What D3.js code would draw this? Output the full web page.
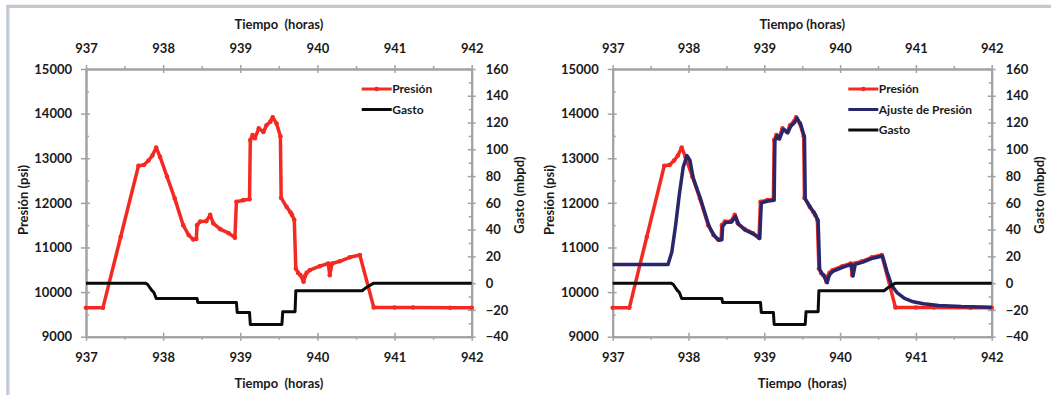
<!DOCTYPE html>
<html>
<head>
<meta charset="utf-8">
<script src="https://cdn.jsdelivr.net/npm/d3@7"></script>
<style>
  html, body { margin: 0; padding: 0; background: #fff; }
  svg { display: block; }
  text { font-family: Lato, "Open Sans", sans-serif; font-weight: 700; fill: #1a1a1a; }
</style>
</head>
<body>
<svg id="chart" width="1051" height="395"></svg>
<script>
// Time axis (hours) and tick values
const tiempoTicks = [937, 938, 939, 940, 941, 942];
const tiempoMinor = [937.5, 938.5, 939.5, 940.5, 941.5];
const presionTicks = [9000, 10000, 11000, 12000, 13000, 14000, 15000];
const presionMinor = [9500, 10500, 11500, 12500, 13500, 14500];
const gastoTicks = [-40, -20, 0, 20, 40, 60, 80, 100, 120, 140, 160];
const gastoMinor = [-30, -10, 10, 30, 50, 70, 90, 110, 130, 150];

// Measured bottom-hole pressure [hours, psi]
const presion = [
  [937.00, 9650], [937.22, 9650], [937.45, 11240], [937.68, 12830], [937.75, 12850],
  [937.81, 12950], [937.86, 13060], [937.91, 13240], [937.96, 13030], [938.05, 12590],
  [938.15, 12100], [938.26, 11500], [938.33, 11280], [938.39, 11180], [938.43, 11190],
  [938.44, 11500], [938.48, 11580], [938.56, 11590], [938.61, 11730], [938.65, 11540],
  [938.74, 11410], [938.85, 11320], [938.93, 11220], [938.95, 12025], [939.04, 12060],
  [939.12, 12080], [939.13, 13410], [939.16, 13520], [939.19, 13450], [939.24, 13670],
  [939.30, 13590], [939.34, 13740], [939.39, 13820], [939.42, 13920], [939.47, 13780],
  [939.52, 13490], [939.53, 12110], [939.60, 11910], [939.65, 11790], [939.67, 11730],
  [939.70, 11620], [939.72, 10530], [939.75, 10430], [939.78, 10380], [939.82, 10230],
  [939.84, 10360], [939.86, 10430], [939.90, 10490], [940.03, 10580], [940.14, 10640],
  [940.16, 10380], [940.19, 10640], [940.29, 10690], [940.42, 10780], [940.55, 10830],
  [940.73, 9657], [941.00, 9655], [941.24, 9655], [941.72, 9650], [942.00, 9650]
];

// Simulated (matched) pressure [hours, psi]
const ajuste = [
  [937.00, 10620], [937.73, 10620], [937.78, 10900], [937.83, 11500], [937.88, 12200],
  [937.93, 12800], [937.98, 13060], [938.02, 12950], [938.06, 12570], [938.16, 12080],
  [938.27, 11480], [938.34, 11260], [938.40, 11160], [938.44, 11170], [938.45, 11470],
  [938.49, 11560], [938.57, 11570], [938.62, 11700], [938.66, 11520], [938.75, 11390],
  [938.86, 11300], [938.94, 11200], [938.96, 12000], [939.05, 12040], [939.13, 12060],
  [939.14, 13390], [939.17, 13500], [939.20, 13430], [939.25, 13650], [939.31, 13570],
  [939.35, 13720], [939.40, 13800], [939.43, 13900], [939.48, 13760], [939.53, 13470],
  [939.54, 12090], [939.61, 11890], [939.66, 11770], [939.68, 11710], [939.71, 11600],
  [939.73, 10510], [939.76, 10410], [939.79, 10360], [939.83, 10210], [939.85, 10340],
  [939.87, 10410], [939.91, 10470], [940.04, 10560], [940.15, 10620], [940.17, 10360],
  [940.20, 10620], [940.30, 10670], [940.43, 10760], [940.56, 10810], [940.62, 10450],
  [940.68, 10150], [940.75, 9990], [940.85, 9860], [940.95, 9790], [941.10, 9740],
  [941.30, 9700], [941.60, 9675], [942.00, 9660]
];

// Flow rate [hours, mbpd]
const gasto = [
  [937.00, 0], [937.77, 0], [937.80, -1], [937.85, -5.2], [937.88, -7], [937.91, -11.4],
  [938.44, -11.4], [938.45, -14.4], [938.95, -14.4], [938.96, -21.9], [939.12, -21.9],
  [939.13, -30.9], [939.54, -30.9], [939.55, -21.4], [939.71, -21.4], [939.72, -5.7],
  [940.58, -5.7], [940.64, -3], [940.73, 0], [942.00, 0]
];

const svg = d3.select("#chart");
const AXIS = "#a3a3a3";
const RED = "#f42a22", NAVY = "#29266b", BLACK = "#0a0a0a";

// Outer frame (top and left edges)
svg.append("path").attr("d", "M7.5,395V6H1051").attr("fill", "none")
  .attr("stroke", "#c3c7cc").attr("stroke-width", 2.5);
svg.append("path").attr("d", "M9,395V7.5H1051").attr("fill", "none")
  .attr("stroke", "#b9cde6").attr("stroke-width", 1);

const plotTop = 69, plotBottom = 336.7;

function panel(left, right, opts) {
  const g = svg.append("g");
  const x = d3.scaleLinear().domain([937, 942]).range([left, right]);
  const yP = d3.scaleLinear().domain([9000, 15000]).range([plotBottom, plotTop]);
  const yG = d3.scaleLinear().domain([-40, 160]).range([plotBottom, plotTop]);

  const styleAxis = sel => {
    sel.select(".domain").attr("stroke", AXIS).attr("stroke-width", 2);
    sel.selectAll(".tick line").attr("stroke", AXIS).attr("stroke-width", 1.5);
    sel.selectAll(".tick text").style("font-size", "13px");
  };

  // Bottom time axis
  g.append("g").attr("transform", `translate(0,${plotBottom})`)
    .call(d3.axisBottom(x).tickValues(tiempoMinor).tickFormat("").tickSize(3).tickSizeOuter(0))
    .call(styleAxis);
  g.append("g").attr("transform", `translate(0,${plotBottom})`)
    .call(d3.axisBottom(x).tickValues(tiempoTicks).tickFormat(d3.format("d")).tickSize(4).tickPadding(12).tickSizeOuter(0))
    .call(styleAxis)
    .call(s => s.selectAll(".tick line").attr("y1", -4));

  // Top time axis
  g.append("g").attr("transform", `translate(0,${plotTop})`)
    .call(d3.axisTop(x).tickValues(tiempoMinor).tickFormat("").tickSize(3).tickSizeOuter(0))
    .call(styleAxis);
  g.append("g").attr("transform", `translate(0,${plotTop})`)
    .call(d3.axisTop(x).tickValues(tiempoTicks).tickFormat(d3.format("d")).tickSize(4).tickPadding(12).tickSizeOuter(0))
    .call(styleAxis)
    .call(s => s.selectAll(".tick line").attr("y1", 4));

  // Left pressure axis
  g.append("g").attr("transform", `translate(${left},0)`)
    .call(d3.axisLeft(yP).tickValues(presionMinor).tickFormat("").tickSize(-3).tickSizeOuter(0))
    .call(styleAxis);
  g.append("g").attr("transform", `translate(${left},0)`)
    .call(d3.axisLeft(yP).tickValues(presionTicks).tickFormat(d3.format("d")).tickSize(5).tickPadding(9).tickSizeOuter(0))
    .call(styleAxis)
    .call(s => s.selectAll(".tick line").attr("x1", 4));

  // Right flow-rate axis
  g.append("g").attr("transform", `translate(${right},0)`)
    .call(d3.axisRight(yG).tickValues(gastoMinor).tickFormat("").tickSize(-3).tickSizeOuter(0))
    .call(styleAxis);
  g.append("g").attr("transform", `translate(${right},0)`)
    .call(d3.axisRight(yG).tickValues(gastoTicks).tickFormat(d3.format("d")).tickSize(4).tickPadding(10).tickSizeOuter(0))
    .call(styleAxis)
    .call(s => s.selectAll(".tick line").attr("x1", -4));

  const cx = (left + right) / 2;
  g.append("text").attr("x", cx).attr("y", 28.5).attr("text-anchor", "middle")
    .style("font-size", "13px").style("white-space", "pre").text(opts.topTitle);
  g.append("text").attr("x", cx).attr("y", 387.5).attr("text-anchor", "middle")
    .style("font-size", "13px").style("white-space", "pre").text("Tiempo  (horas)");
  g.append("text").attr("transform", `translate(${left - 63},200) rotate(-90)`)
    .attr("text-anchor", "middle").attr("dy", "0.35em")
    .style("font-size", "13px").text("Presión (psi)");
  g.append("text").attr("transform", `translate(${right + 48},195) rotate(-90)`)
    .attr("text-anchor", "middle").attr("dy", "0.35em")
    .style("font-size", "13px").text("Gasto (mbpd)");

  const lineP = d3.line().x(d => x(d[0])).y(d => yP(d[1]));
  const lineG = d3.line().x(d => x(d[0])).y(d => yG(d[1]));

  g.append("path").datum(presion).attr("d", lineP).attr("fill", "none")
    .attr("stroke", RED).attr("stroke-width", 3.5).attr("stroke-linejoin", "round");
  g.append("g").selectAll("circle").data(presion).join("circle")
    .attr("cx", d => x(d[0])).attr("cy", d => yP(d[1])).attr("r", 2.3).attr("fill", RED);

  if (opts.ajuste) {
    g.append("path").datum(ajuste).attr("d", lineP).attr("fill", "none")
      .attr("stroke", NAVY).attr("stroke-width", 3.5).attr("stroke-linejoin", "round");
  }

  g.append("path").datum(gasto).attr("d", lineG).attr("fill", "none")
    .attr("stroke", BLACK).attr("stroke-width", 3).attr("stroke-linejoin", "round");

  // Legend
  const items = [{ name: "Presión", color: RED, marker: true }];
  if (opts.ajuste) items.push({ name: "Ajuste de Presión", color: NAVY });
  items.push({ name: "Gasto", color: BLACK });
  const lg = g.append("g").attr("transform", `translate(${opts.legendX},89)`);
  items.forEach((it, i) => {
    const row = lg.append("g").attr("transform", `translate(0,${i * 20.5})`);
    row.append("line").attr("x1", 0).attr("x2", 30).attr("stroke", it.color).attr("stroke-width", 3);
    if (it.marker) row.append("circle").attr("cx", 15).attr("r", 2.3).attr("fill", it.color);
    row.append("text").attr("x", 30.5).attr("dy", "0.35em").style("font-size", "12px").text(it.name);
  });
}

panel(86, 471.7, { topTitle: "Tiempo  (horas)", legendX: 361.7, ajuste: false });
panel(612.7, 991.7, { topTitle: "Tiempo (horas)", legendX: 848.3, ajuste: true });
</script>
</body>
</html>
